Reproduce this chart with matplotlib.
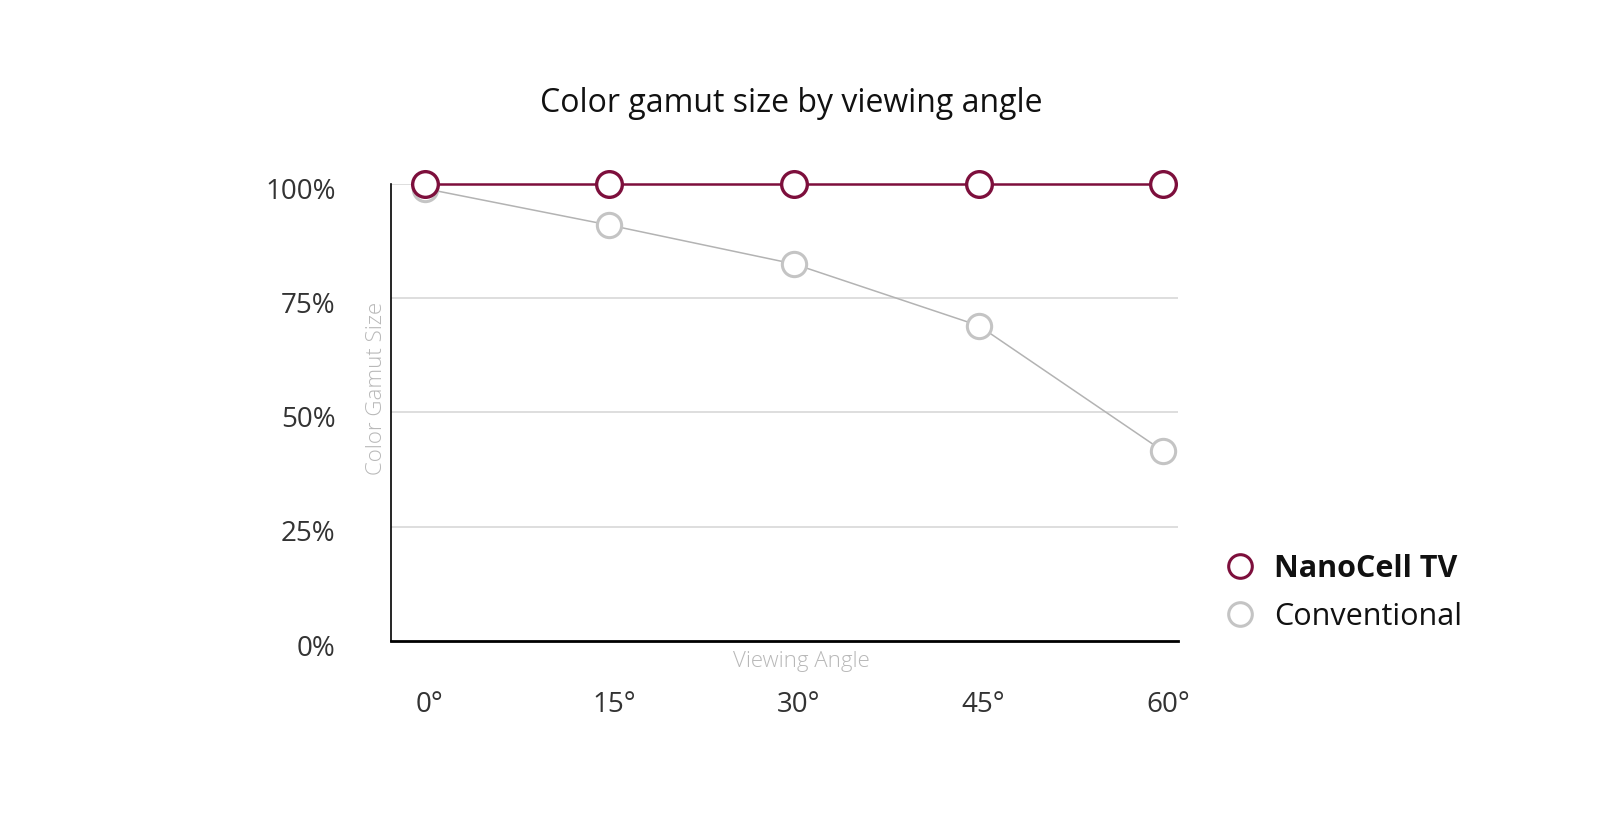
import matplotlib
matplotlib.use('Agg')

import matplotlib.pyplot as plt
import matplotlib.transforms as mtransforms
from matplotlib.lines import Line2D

plt.rcParams['font.family'] = ['Open Sans', 'DejaVu Sans']

# data
angles = [0, 15, 30, 45, 60]
angle_labels = ['0°', '15°', '30°', '45°', '60°']
nanocell = [100, 100, 100, 100, 100]
conventional = [99, 91, 82.5, 69, 41.5]
y_ticks = [0, 25, 50, 75, 100]
y_labels = ['0%', '25%', '50%', '75%', '100%']

nano_color = '#7d0f3c'
conv_color = '#c4c4c4'

fig = plt.figure(figsize=(16, 8.14), dpi=100)
ax = fig.add_axes([0.2444, 0.2125, 0.4916, 0.5615])

ax.set_xlim(-2.73, 61.15)
ax.set_ylim(0, 100)

# light grid lines
for y in y_ticks[1:]:
    ax.axhline(y, color='#d4d4d4', lw=1.1, zorder=1)

ax.plot(angles, conventional, color='#b3b3b3', lw=1.1, marker='o', ms=17.5,
        mfc='white', mec=conv_color, mew=2.2, zorder=3, clip_on=False)
ax.plot(angles, nanocell, color=nano_color, lw=1.8, marker='o', ms=18.5,
        mfc='white', mec=nano_color, mew=2.4, zorder=4, clip_on=False)

ax.set_xticks(angles)
ax.set_xticklabels(angle_labels)
ax.set_yticks(y_ticks)
ax.set_yticklabels(y_labels)
ax.tick_params(axis='both', length=0, labelsize=20, colors='#333333')
ax.tick_params(axis='x', pad=36)
ax.tick_params(axis='y', pad=40)

# small nudges so labels sit where the original puts them
yshift = mtransforms.ScaledTranslation(0, -3 / 72, fig.dpi_scale_trans)
for lab in ax.get_yticklabels():
    lab.set_transform(lab.get_transform() + yshift)
xshift = mtransforms.ScaledTranslation(3.5 / 72, 0, fig.dpi_scale_trans)
for lab in ax.get_xticklabels():
    lab.set_transform(lab.get_transform() + xshift)

for s in ['top', 'right']:
    ax.spines[s].set_visible(False)
ax.spines['left'].set_linewidth(1.2)
ax.spines['bottom'].set_linewidth(2.0)

fig.text(791 / 1600, 1 - 103 / 814, 'Color gamut size by viewing angle',
         ha='center', va='center', fontsize=23, color='#111111')
fig.text(376 / 1600, 1 - 388 / 814, 'Color Gamut Size', rotation=90,
         ha='center', va='center', fontsize=16, color='#b8b8b8', fontweight='light')
fig.text(801 / 1600, 1 - 661 / 814, 'Viewing Angle',
         ha='center', va='center', fontsize=16, color='#b8b8b8', fontweight='light')

handles = [
    Line2D([], [], ls='none', marker='o', ms=17, mfc='white', mec=nano_color, mew=2.2),
    Line2D([], [], ls='none', marker='o', ms=17, mfc='white', mec=conv_color, mew=2.2),
]
leg = fig.legend(handles, ['NanoCell TV', 'Conventional'], loc='center left',
                 bbox_to_anchor=(1225 / 1600, 1 - 593 / 814), frameon=False,
                 fontsize=22, handlelength=1.0, handletextpad=0.6, labelspacing=0.6,
                 borderpad=0, borderaxespad=0)
leg.get_texts()[0].set_fontweight('bold')
for t in leg.get_texts():
    t.set_color('#111111')

fig.savefig('out.png', dpi=100, facecolor='white')
